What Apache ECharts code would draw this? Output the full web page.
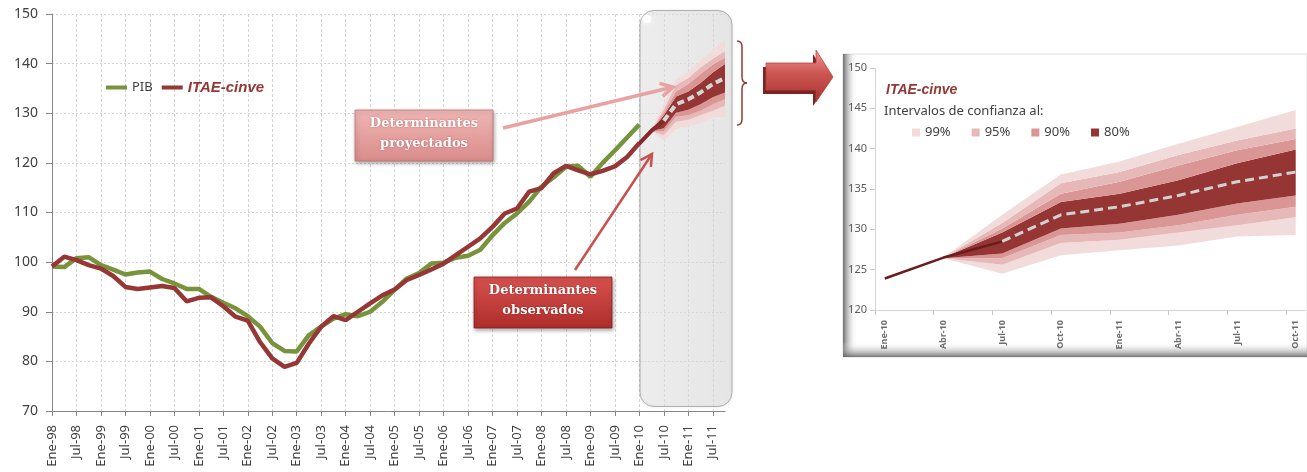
<!DOCTYPE html>
<html><head><meta charset="utf-8">
<script src="https://cdn.jsdelivr.net/npm/echarts@6/dist/echarts.min.js"></script>
<style>html,body{margin:0;padding:0;background:#fff}#c{width:1307px;height:472px}</style>
</head><body><div id="c"></div>
<script>
// ---------- data ----------
const quarterNames = ['Ene','Abr','Jul','Oct'];
const years = ['98','99','00','01','02','03','04','05','06','07','08','09','10','11'];
const pib = [99.1,99.0,100.8,101.0,99.4,98.5,97.5,97.9,98.1,96.6,95.7,94.6,94.6,93.0,91.8,90.7,89.1,87.0,83.7,82.1,82.0,85.3,87.0,88.6,89.5,89.1,90.0,92.0,94.4,96.7,97.8,99.7,99.9,100.9,101.3,102.5,105.4,107.9,109.8,112.2,115.2,117.1,119.2,119.4,117.2,120.0,122.5,125.1,127.7];
const itae = [99.1,101.1,100.4,99.4,98.7,97.2,95.0,94.6,94.9,95.2,94.8,92.1,92.8,92.9,91.1,89.0,88.2,83.9,80.6,78.9,79.7,83.6,87.0,89.1,88.3,90.0,91.7,93.3,94.5,96.4,97.4,98.5,99.7,101.4,103.1,104.8,107.1,109.8,110.8,114.2,114.9,117.9,119.4,118.5,117.7,118.4,119.3,121.2,124.0];
const fcCats = ['Ene-10','Abr-10','Jul-10','Oct-10','Ene-11','Abr-11','Jul-11','Oct-11'];
const center = [123.9,126.5,128.5,131.8,132.8,134.2,135.9,137.1];
const lo80 = [123.9,126.4,127.0,130.1,130.7,131.8,133.2,134.2];
const hi80 = [123.9,126.5,129.6,133.4,134.4,136.1,138.2,139.9];
const lo90 = [123.9,126.4,126.4,129.3,129.6,130.5,131.8,132.8];
const hi90 = [123.9,126.5,130.1,134.4,135.9,137.9,139.8,141.2];
const lo95 = [123.9,126.4,125.6,128.3,128.7,129.6,130.5,131.5];
const hi95 = [123.9,126.5,130.8,135.7,137.1,139.2,141.0,142.5];
const lo99 = [123.9,126.4,124.5,126.8,127.4,128.0,129.1,129.3];
const hi99 = [123.9,126.5,131.8,136.8,138.4,140.6,142.7,144.8];
const mainTicksY = [70,150,10];
const insetTicksY = [120,150,5];

// ---------- derived ----------
const cats = [];
years.forEach(y => quarterNames.forEach(q => cats.push(q + '-' + y)));
const fcStart = cats.indexOf(fcCats[0]);
const c80 = '#963634', c90 = '#da9694', c95 = '#e6b9b8', c99 = '#f2dcdb';
const diff = (a, b) => a.map((v, i) => +(v - b[i]).toFixed(2));
const fanLayers = [
  {name: 'base', vals: lo99, color: null},
  {name: '99%', vals: diff(lo95, lo99), color: c99},
  {name: '95%', vals: diff(lo90, lo95), color: c95},
  {name: '90%', vals: diff(lo80, lo90), color: c90},
  {name: '80%', vals: diff(hi80, lo80), color: c80},
  {name: '90%', vals: diff(hi90, hi80), color: c90},
  {name: '95%', vals: diff(hi95, hi90), color: c95},
  {name: '99%', vals: diff(hi99, hi95), color: c99}
];
function fan(xAxisIndex, yAxisIndex, stackId, mapData, extra) {
  return fanLayers.map(l => {
    const s = Object.assign({
      type: 'line', name: l.name, xAxisIndex, yAxisIndex, stack: stackId, stackStrategy: 'all',
      data: mapData(l.vals), symbol: 'none', silent: true, z: 2,
      lineStyle: {width: 0, opacity: 0},
      itemStyle: {color: l.color || 'rgba(0,0,0,0)'}
    }, extra || {});
    if (l.color) s.areaStyle = {color: l.color, opacity: 1};
    return s;
  });
}
const mainData = vals => cats.map((c, i) => (i >= fcStart && i - fcStart < vals.length) ? vals[i - fcStart] : '-');
// inset: monthly date-like axis, each quarter plotted at the centre of its first month
const insetPos = k => 0.5 + 3 * k;
// value first, position second (encode below), so that stacking runs on the value dimension
const insetData = (vals, from) => vals.map((v, k) => [v, insetPos(k + (from || 0))]);
const insetEncode = {encode: {x: 1, y: 0}};

const font = '"Noto Sans", sans-serif';
const chart = echarts.init(document.getElementById('c'));
const LG = echarts.graphic.LinearGradient;

function arrowHead(x1, y1, x2, y2, len, ang) {
  const a = Math.atan2(y2 - y1, x2 - x1);
  return [[x2 - len * Math.cos(a - ang), y2 - len * Math.sin(a - ang)], [x2, y2],
          [x2 - len * Math.cos(a + ang), y2 - len * Math.sin(a + ang)]];
}
const bigArrow = [[766,63],[816,63],[816,50],[833,77],[816,102],[816,90],[766,90]];
const braceStyle = {stroke: '#953735', lineWidth: 1.5, fill: 'none'};
const brace = [
  {type: 'bezierCurve', z: 5, shape: {x1: 737, y1: 41, cpx1: 742, cpy1: 41, x2: 742, y2: 47}, style: braceStyle},
  {type: 'line', z: 5, shape: {x1: 742, y1: 47, x2: 742, y2: 77}, style: braceStyle},
  {type: 'bezierCurve', z: 5, shape: {x1: 742, y1: 77, cpx1: 742, cpy1: 83, x2: 747, y2: 83}, style: braceStyle},
  {type: 'bezierCurve', z: 5, shape: {x1: 747, y1: 83, cpx1: 742, cpy1: 83, x2: 742, y2: 89}, style: braceStyle},
  {type: 'line', z: 5, shape: {x1: 742, y1: 89, x2: 742, y2: 119}, style: braceStyle},
  {type: 'bezierCurve', z: 5, shape: {x1: 742, y1: 119, cpx1: 742, cpy1: 125, x2: 737, y2: 125}, style: braceStyle}
];

const option = {
  animation: false,
  backgroundColor: '#ffffff',
  grid: [
    {left: 52, right: 582, top: 14, bottom: 61},
    {left: 875, right: 1.5, top: 68, bottom: 162}
  ],
  legend: [
    {
      data: [{name: 'PIB'}, {name: 'ITAE-cinve', textStyle: {color: '#953735', fontStyle: 'italic', fontWeight: 'bold', fontFamily: '"Liberation Sans", Arial', fontSize: 15}}],
      left: 106, top: 80, icon: 'rect', itemWidth: 21, itemHeight: 4, itemGap: 9, padding: 0,
      selectedMode: false, textStyle: {fontFamily: font, fontSize: 13, color: '#404040'}
    },
    {
      data: ['99%', '95%', '90%', '80%'],
      left: 912, top: 126, icon: 'rect', itemWidth: 8, itemHeight: 8, itemGap: 21, padding: 0,
      selectedMode: false, textStyle: {fontFamily: font, fontSize: 13, color: '#404040'}
    }
  ],
  xAxis: [
    {
      type: 'category', gridIndex: 0, data: cats, boundaryGap: false,
      axisLine: {lineStyle: {color: '#868686'}},
      axisTick: {interval: 1, length: 5, lineStyle: {color: '#868686'}},
      axisLabel: {interval: 1, rotate: 90, fontSize: 13, fontFamily: font, color: '#404040', margin: 14},
      splitLine: {show: true, interval: 1, lineStyle: {color: '#d4d4d4', type: [3, 2]}}
    },
    {
      type: 'value', gridIndex: 1, min: 0, max: 22, z: 4,
      axisLine: {show: true, lineStyle: {color: '#d4d4d4'}},
      axisTick: {show: true, length: 5, customValues: [0,3,6,9,12,15,18,21], lineStyle: {color: '#c8c8c8'}},
      axisLabel: {rotate: 90, fontSize: 9, fontWeight: 'bold', fontFamily: font, color: '#6f6f6f', margin: 10,
        customValues: fcCats.map((c, k) => insetPos(k)),
        formatter: v => fcCats[Math.round((v - 0.5) / 3)] || ''},
      splitLine: {show: false}
    }
  ],
  yAxis: [
    {
      type: 'value', gridIndex: 0, min: mainTicksY[0], max: mainTicksY[1], interval: mainTicksY[2],
      axisLine: {show: true, lineStyle: {color: '#868686'}},
      axisTick: {show: true, length: 6, lineStyle: {color: '#868686'}},
      axisLabel: {fontSize: 14, fontFamily: font, color: '#404040', margin: 14},
      splitLine: {lineStyle: {color: '#d4d4d4', type: [2, 2]}}
    },
    {
      type: 'value', gridIndex: 1, min: insetTicksY[0], max: insetTicksY[1], interval: insetTicksY[2], z: 4,
      axisLine: {show: true, lineStyle: {color: '#d4d4d4'}},
      axisTick: {show: true, length: 5, lineStyle: {color: '#c8c8c8'}},
      axisLabel: {fontSize: 11, fontFamily: font, color: '#595959', margin: 8},
      splitLine: {show: false}
    }
  ],
  series: [].concat(
    fan(0, 0, 'fanMain', mainData),
    [
      {type: 'line', name: 'PIB', data: pib, xAxisIndex: 0, yAxisIndex: 0, symbol: 'none', z: 3,
        lineStyle: {color: '#77933c', width: 4.5}, itemStyle: {color: '#77933c'}},
      {type: 'line', name: 'ITAE-cinve', data: itae, xAxisIndex: 0, yAxisIndex: 0, symbol: 'none', z: 4,
        lineStyle: {color: '#953735', width: 4.5}, itemStyle: {color: '#953735'}},
      {type: 'line', name: 'fcSolid', data: mainData(center.slice(0, 3)), xAxisIndex: 0, yAxisIndex: 0, symbol: 'none', z: 4,
        lineStyle: {color: '#85292a', width: 4}},
      {type: 'line', name: 'fcDash', data: cats.map((c, i) => i >= fcStart + 2 ? center[i - fcStart] : '-'), xAxisIndex: 0, yAxisIndex: 0, symbol: 'none', z: 4,
        lineStyle: {color: '#d6d6d6', width: 4, type: [7, 4]}}
    ],
    fan(1, 1, 'fanInset', v => insetData(v), insetEncode),
    [
      Object.assign({type: 'line', name: 'inSolid', data: insetData(center.slice(0, 3)), xAxisIndex: 1, yAxisIndex: 1, symbol: 'none', z: 4,
        lineStyle: {color: '#6b1c1c', width: 2.5}}, insetEncode),
      Object.assign({type: 'line', name: 'inDash', data: insetData(center.slice(2), 2), xAxisIndex: 1, yAxisIndex: 1, symbol: 'none', z: 4,
        lineStyle: {color: '#d2d2d2', width: 3, type: [9, 5]}}, insetEncode)
    ]
  ),
  graphic: [
    // forecast highlight box
    {type: 'rect', z: 1, shape: {x: 640, y: 10.5, width: 92, height: 396, r: 14},
      style: {fill: new LG(0, 0, 1, 0, [{offset: 0, color: 'rgba(236,236,236,0.55)'}, {offset: 1, color: 'rgba(222,222,222,0.55)'}]),
        stroke: 'rgba(150,150,150,0.7)', lineWidth: 1, shadowColor: 'rgba(0,0,0,0.12)', shadowBlur: 3}},
    {type: 'circle', z: 1, shape: {cx: 647, cy: 19, r: 4}, style: {fill: 'rgba(255,255,255,0.95)', shadowColor: '#fff', shadowBlur: 4}}
  ].concat(brace, [
    // big arrow
    {type: 'polygon', z: 5, shape: {points: bigArrow.map(p => [p[0] - 3, p[1] + 4])}, style: {fill: '#7a2523'}},
    {type: 'polygon', z: 6, shape: {points: bigArrow},
      style: {fill: new LG(0, 0, 0, 1, [{offset: 0, color: '#ec9a97'}, {offset: 0.45, color: '#cc5652'}, {offset: 1, color: '#a8322f'}]),
        stroke: '#b8423f', lineWidth: 0.8}},
    // inset frame
    {type: 'rect', z: 1, shape: {x: 843, y: 54, width: 464, height: 303}, style: {fill: '#ffffff', stroke: 'rgba(200,200,200,0.6)', lineWidth: 1}},
    {type: 'rect', z: 1, shape: {x: 843, y: 54, width: 14, height: 303},
      style: {fill: new LG(0, 0, 1, 0, [{offset: 0, color: 'rgba(95,95,95,0.9)'}, {offset: 1, color: 'rgba(255,255,255,0)'}])}},
    {type: 'rect', z: 1, shape: {x: 843, y: 342, width: 464, height: 15},
      style: {fill: new LG(0, 0, 0, 1, [{offset: 0, color: 'rgba(255,255,255,0)'}, {offset: 1, color: 'rgba(95,95,95,0.85)'}])}},
    {type: 'text', z: 6, style: {text: 'ITAE-cinve', x: 886, y: 90, verticalAlign: 'middle', fill: '#953735', font: 'italic bold 14px "Liberation Sans", Arial'}},
    {type: 'text', z: 6, style: {text: 'Intervalos de confianza al:', x: 884, y: 111, verticalAlign: 'middle', fill: '#404040', font: '13px "Noto Sans", sans-serif'}},
    // callout: projected
    {type: 'rect', z: 6, shape: {x: 355, y: 110, width: 138, height: 51},
      style: {fill: new LG(0, 0, 0, 1, [{offset: 0, color: '#efb6b4'}, {offset: 1, color: '#d98c8a'}]),
        stroke: 'rgba(185,110,110,0.7)', lineWidth: 1, shadowColor: 'rgba(0,0,0,0.35)', shadowBlur: 4, shadowOffsetX: 1, shadowOffsetY: 2}},
    {type: 'text', z: 7, style: {text: 'Determinantes\nproyectados', x: 424, y: 134, align: 'center', verticalAlign: 'middle', lineHeight: 20,
      fill: '#ffffff', font: 'bold 13px "DejaVu Serif", serif', textShadowColor: 'rgba(90,0,0,0.4)', textShadowBlur: 2}},
    // callout: observed
    {type: 'rect', z: 6, shape: {x: 474, y: 277, width: 138, height: 51},
      style: {fill: new LG(0, 0, 0, 1, [{offset: 0, color: '#d8524f'}, {offset: 1, color: '#ad2d2b'}]),
        stroke: 'rgba(140,30,30,0.8)', lineWidth: 1, shadowColor: 'rgba(0,0,0,0.35)', shadowBlur: 4, shadowOffsetX: 1, shadowOffsetY: 2}},
    {type: 'text', z: 7, style: {text: 'Determinantes\nobservados', x: 543, y: 301, align: 'center', verticalAlign: 'middle', lineHeight: 20,
      fill: '#ffffff', font: 'bold 13px "DejaVu Serif", serif', textShadowColor: 'rgba(60,0,0,0.45)', textShadowBlur: 2}},
    // arrows
    {type: 'line', z: 6, shape: {x1: 503, y1: 128, x2: 673, y2: 87}, style: {stroke: '#e8a2a1', lineWidth: 3.5}},
    {type: 'polyline', z: 6, shape: {points: arrowHead(503, 128, 673, 87, 14, 0.5)}, style: {stroke: '#e8a2a1', lineWidth: 3.5, fill: 'none'}},
    {type: 'line', z: 6, shape: {x1: 575, y1: 270, x2: 652, y2: 154}, style: {stroke: '#c8504d', lineWidth: 2.5}},
    {type: 'polyline', z: 6, shape: {points: arrowHead(575, 270, 652, 154, 13, 0.5)}, style: {stroke: '#c8504d', lineWidth: 2.5, fill: 'none'}}
  ])
};
chart.setOption(option);
</script>
</body></html>
